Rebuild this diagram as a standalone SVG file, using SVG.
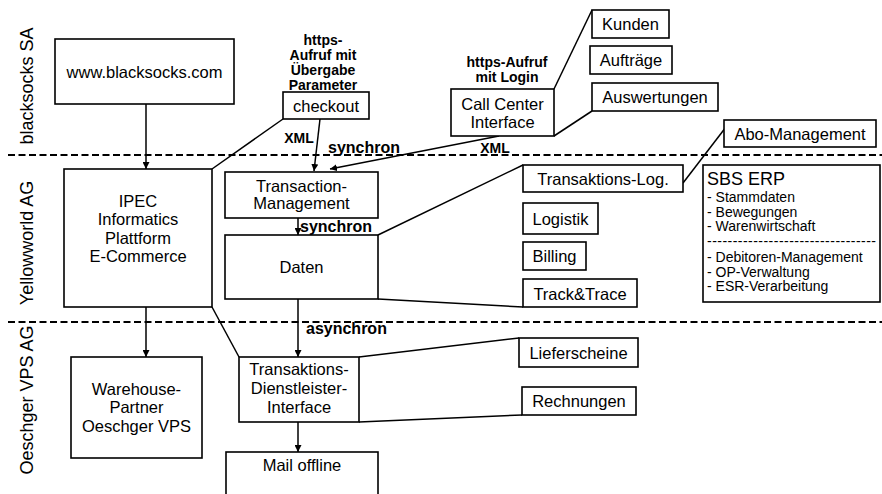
<svg xmlns="http://www.w3.org/2000/svg" width="882" height="494" viewBox="0 0 882 494">
<defs>
<marker id="ah" viewBox="0 0 10 10" refX="10" refY="5" markerWidth="7" markerHeight="7" markerUnits="userSpaceOnUse" orient="auto"><path d="M0,0 L10,5 L0,10 z" fill="#000"/></marker>
<style>
.b{fill:#fff;stroke:#000;stroke-width:1.6}
.t{font-family:"Liberation Sans",Arial,sans-serif;font-size:16.5px;fill:#000;text-anchor:middle}
.l{font-family:"Liberation Sans",Arial,sans-serif;font-size:14px;font-weight:bold;fill:#000;text-anchor:middle}
.s{font-family:"Liberation Sans",Arial,sans-serif;font-size:16px;font-weight:bold;fill:#000}
.e{font-family:"Liberation Sans",Arial,sans-serif;font-size:14px;fill:#000}
.lane{font-family:"Liberation Sans",Arial,sans-serif;font-size:18px;fill:#000;text-anchor:middle}
.d{stroke:#000;stroke-width:2;stroke-dasharray:7 3.5;fill:none}
.c{stroke:#000;stroke-width:1.5;fill:none}
.a{stroke:#000;stroke-width:1.5;fill:none;marker-end:url(#ah)}
</style>
</defs>
<rect width="882" height="494" fill="#fff"/>
<g id="lanes">
<line class="d" x1="8" y1="155" x2="882" y2="155"/>
<line class="d" x1="8" y1="322" x2="882" y2="322"/>
<text class="lane" transform="translate(33,86) rotate(-90)">blacksocks SA</text>
<text class="lane" transform="translate(33,243) rotate(-90)">Yellowworld AG</text>
<text class="lane" transform="translate(33,400) rotate(-90)">Oeschger VPS AG</text>
</g>
<g id="connectors">
<line class="a" x1="146" y1="104" x2="146" y2="169"/>
<line class="c" x1="283" y1="119" x2="212" y2="169"/>
<line class="a" x1="320" y1="119" x2="314" y2="171"/>
<line class="a" x1="499" y1="136" x2="330" y2="169"/>
<line class="c" x1="592" y1="10" x2="554" y2="89"/>
<line class="c" x1="592" y1="111" x2="554" y2="136"/>
<line class="a" x1="298" y1="218" x2="298" y2="235"/>
<line class="c" x1="378" y1="235" x2="523" y2="165"/>
<line class="c" x1="378" y1="299" x2="523" y2="307"/>
<line class="c" x1="726" y1="127" x2="683" y2="183"/>
<line class="a" x1="146" y1="307" x2="146" y2="357"/>
<line class="c" x1="212" y1="307" x2="239" y2="357"/>
<line class="a" x1="298" y1="299" x2="298" y2="357"/>
<line class="a" x1="298" y1="422" x2="298" y2="452"/>
<line class="c" x1="359" y1="357" x2="519" y2="338"/>
<line class="c" x1="359" y1="422" x2="522" y2="415"/>
<text class="l" x="323" y="45">https-</text>
<text class="l" x="323" y="60">Aufruf mit</text>
<text class="l" x="323" y="75">Übergabe</text>
<text class="l" x="323" y="90">Parameter</text>
<text class="l" x="507" y="67">https-Aufruf</text>
<text class="l" x="507" y="82">mit Login</text>
<text class="l" x="299" y="143">XML</text>
<text class="s" x="328" y="153">synchron</text>
<text class="l" x="495" y="153">XML</text>
<text class="s" x="300" y="232">synchron</text>
<text class="s" x="306" y="334">asynchron</text>
</g>
<g id="www"><rect class="b" x="55" y="39" width="179" height="65"/><text class="t" x="144.5" y="78">www.blacksocks.com</text></g>
<g id="checkout"><rect class="b" x="283" y="92" width="86" height="27"/><text class="t" x="326" y="112">checkout</text></g>
<g id="callcenter"><rect class="b" x="451" y="89" width="103" height="47"/><text class="t" x="502.5" y="110">Call Center</text><text class="t" x="502.5" y="128">Interface</text></g>
<g id="kunden"><rect class="b" x="592" y="10" width="77" height="28"/><text class="t" x="630.5" y="30">Kunden</text></g>
<g id="auftraege"><rect class="b" x="590" y="46" width="82" height="28"/><text class="t" x="631" y="66">Aufträge</text></g>
<g id="auswertungen"><rect class="b" x="592" y="83" width="126" height="28"/><text class="t" x="655" y="103">Auswertungen</text></g>
<g id="abo"><rect class="b" x="724" y="120" width="152" height="27"/><text class="t" x="800" y="140">Abo-Management</text></g>
<g id="ipec"><rect class="b" x="64" y="169" width="148" height="138"/><text class="t" x="138" y="207">IPEC</text><text class="t" x="138" y="225">Informatics</text><text class="t" x="138" y="244">Plattform</text><text class="t" x="138" y="262">E-Commerce</text></g>
<g id="tm"><rect class="b" x="225" y="172" width="153" height="46"/><text class="t" x="301.5" y="192">Transaction-</text><text class="t" x="301.5" y="209">Management</text></g>
<g id="daten"><rect class="b" x="225" y="235" width="153" height="64"/><text class="t" x="301.5" y="273">Daten</text></g>
<g id="tlog"><rect class="b" x="523" y="165" width="160" height="27"/><text class="t" x="603" y="185">Transaktions-Log.</text></g>
<g id="logistik"><rect class="b" x="523" y="203" width="75" height="31"/><text class="t" x="560.5" y="225">Logistik</text></g>
<g id="billing"><rect class="b" x="523" y="242" width="63" height="28"/><text class="t" x="554.5" y="262">Billing</text></g>
<g id="track"><rect class="b" x="523" y="279" width="114" height="28"/><text class="t" x="580" y="300">Track&amp;Trace</text></g>
<g id="sbs"><rect class="b" x="703" y="165" width="177" height="137"/>
<text class="e" x="707" y="185" style="font-size:18px">SBS ERP</text>
<text class="e" x="707" y="202">- Stammdaten</text>
<text class="e" x="707" y="216.5">- Bewegungen</text>
<text class="e" x="707" y="231">- Warenwirtschaft</text>
<text class="e" x="707" y="246" textLength="169" lengthAdjust="spacing">---------------------------------</text>
<text class="e" x="707" y="262">- Debitoren-Management</text>
<text class="e" x="707" y="276.5">- OP-Verwaltung</text>
<text class="e" x="707" y="291">- ESR-Verarbeitung</text>
</g>
<g id="warehouse"><rect class="b" x="71" y="357" width="131" height="101"/><text class="t" x="136.5" y="395">Warehouse-</text><text class="t" x="136.5" y="413">Partner</text><text class="t" x="136.5" y="432">Oeschger VPS</text></g>
<g id="tdi"><rect class="b" x="239" y="357" width="120" height="65"/><text class="t" x="299" y="375">Transaktions-</text><text class="t" x="299" y="394">Dienstleister-</text><text class="t" x="299" y="413">Interface</text></g>
<g id="liefer"><rect class="b" x="519" y="338" width="119" height="29"/><text class="t" x="578.5" y="359">Lieferscheine</text></g>
<g id="rechn"><rect class="b" x="522" y="387" width="114" height="28"/><text class="t" x="579" y="407">Rechnungen</text></g>
<g id="mail"><rect class="b" x="226" y="452" width="152" height="50"/><text class="t" x="302" y="471">Mail offline</text></g>
</svg>
